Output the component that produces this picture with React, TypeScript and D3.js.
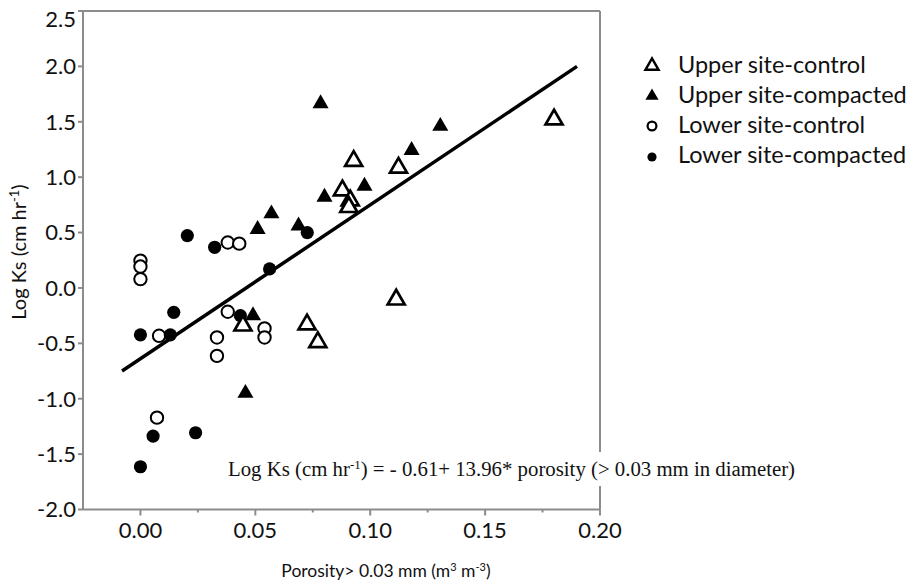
import React from "react";
import * as d3 from "d3";

// points: [porosity, log Ks]
const upperControl = [
  [0.18, 1.52], [0.0928, 1.146], [0.1123, 1.086], [0.0879, 0.88], [0.0913, 0.79],
  [0.0907, 0.73], [0.1113, -0.105], [0.0725, -0.33], [0.0772, -0.49], [0.0446, -0.34],
];
const upperCompacted = [
  [0.0784, 1.665], [0.1305, 1.46], [0.118, 1.242], [0.0975, 0.92], [0.0801, 0.82],
  [0.057, 0.67], [0.051, 0.53], [0.0688, 0.56], [0.049, -0.25], [0.0457, -0.95],
];
const lowerControl = [
  [0, 0.247], [0, 0.193], [0, 0.08], [0.038, 0.41], [0.043, 0.4], [0.038, -0.215],
  [0.054, -0.365], [0.054, -0.447], [0.0081, -0.432], [0.0333, -0.447], [0.0333, -0.613],
  [0.0072, -1.171],
];
const lowerCompacted = [
  [0.0204, 0.473], [0.0323, 0.367], [0.0726, 0.5], [0.0562, 0.172], [0.0145, -0.22],
  [0.0435, -0.25], [0, -0.423], [0.013, -0.423], [0.0055, -1.337], [0.024, -1.307],
  [0, -1.614],
];
const fitLine = [[-0.008, -0.75], [0.19, 2.0]];

const xTicks = [0, 0.05, 0.1, 0.15, 0.2];
const xMinor = [0.025, 0.075, 0.125, 0.175];
const yTicks = [-2.0, -1.5, -1.0, -0.5, 0.0, 0.5, 1.0, 1.5, 2.0, 2.5];
const legendLabels = ["Upper site-control", "Upper site-compacted", "Lower site-control", "Lower site-compacted"];

const sans = "Lato, 'Open Sans', sans-serif";
const axisColor = "#8c8c8c";

const App = () => {
  const x = d3.scaleLinear().domain([-0.025, 0.2]).range([83, 600]);
  const y = d3.scaleLinear().domain([-2, 2.5]).range([509.5, 11]);

  const tri = d3.symbol(d3.symbolTriangle, 125)();
  const triFilled = d3.symbol(d3.symbolTriangle, 112)();
  const legTri = d3.symbol(d3.symbolTriangle, 75)();
  const line = d3.line().x(d => x(d[0])).y(d => y(d[1]));

  return (
    <svg width={909} height={584} style={{ position: "absolute", left: 0, top: 0, background: "#fff" }}>
      {/* frame */}
      <g stroke={axisColor} strokeWidth={2} fill="none">
        <line x1={x(-0.025)} x2={x(0.2)} y1={y(2.5)} y2={y(2.5)} />
        <line x1={x(-0.025)} x2={x(0.2)} y1={y(-2)} y2={y(-2)} />
        <line x1={x(-0.025)} x2={x(-0.025)} y1={y(2.5)} y2={y(-2)} />
        <line x1={x(0.2)} x2={x(0.2)} y1={y(2.5)} y2={y(-2)} />
        {yTicks.map(t => <line key={t} x1={x(-0.025) - 5} x2={x(-0.025)} y1={y(t)} y2={y(t)} />)}
        {xTicks.map(t => <line key={t} x1={x(t)} x2={x(t)} y1={y(-2)} y2={y(-2) + 6} />)}
        {xMinor.map(t => <line key={t} x1={x(t)} x2={x(t)} y1={y(-2)} y2={y(-2) + 3} />)}
      </g>

      {yTicks.map(t => (
        <text key={t} x={76} y={Math.max(y(t), 19.5)} dy="0.36em" textAnchor="end" fontFamily={sans} fontSize={22} fill="#111">
          {t.toFixed(1)}
        </text>
      ))}
      {xTicks.map(t => (
        <text key={t} x={x(t)} y={538} textAnchor="middle" fontFamily={sans} fontSize={22} fill="#111">
          {t.toFixed(2)}
        </text>
      ))}

      <text transform="translate(26,252) rotate(-90)" textAnchor="middle" fontFamily={sans} fontSize={20} fill="#111">
        Log Ks (cm hr<tspan dy="-7" fontSize={13}>-1</tspan><tspan dy="7">)</tspan>
      </text>
      <text x={386} y={577} textAnchor="middle" fontFamily={sans} fontSize={17.5} fill="#111">
        Porosity&gt; 0.03 mm (m<tspan dy="-6" fontSize={11}>3</tspan><tspan dy="6"> m</tspan>
        <tspan dy="-6" fontSize={11}>-3</tspan><tspan dy="6">)</tspan>
      </text>

      {/* fitted line */}
      <path d={line(fitLine as [number, number][])!} stroke="#000" strokeWidth={3.5} fill="none" />

      {/* points */}
      {lowerControl.map((d, i) => (
        <circle key={"lc" + i} cx={x(d[0])} cy={y(d[1])} r={6.2} fill="#fff" stroke="#000" strokeWidth={2} />
      ))}
      {lowerCompacted.map((d, i) => (
        <circle key={"lp" + i} cx={x(d[0])} cy={y(d[1])} r={6.6} fill="#000" />
      ))}
      {upperControl.map((d, i) => (
        <path key={"uc" + i} d={tri!} transform={`translate(${x(d[0])},${y(d[1])})`} fill="#fff" stroke="#000" strokeWidth={2.7} />
      ))}
      {upperCompacted.map((d, i) => (
        <path key={"up" + i} d={triFilled!} transform={`translate(${x(d[0])},${y(d[1])})`} fill="#000" />
      ))}

      {/* equation */}
      <rect x={222} y={452} width={580} height={34} fill="#fff" />
      <text x={228} y={476} fontFamily="'Liberation Serif', 'Times New Roman', serif" fontSize={20.8} fill="#111">
        Log Ks (cm hr<tspan dy="-7" fontSize={13}>-1</tspan><tspan dy="7">) = - 0.61+ 13.96* porosity (&gt; 0.03 mm in diameter)</tspan>
      </text>

      {/* legend */}
      <g>
        {legendLabels.map((l, i) => (
          <text key={l} x={678} y={65 + i * 30} dy="0.36em" fontFamily={sans} fontSize={23.5} fill="#111">{l}</text>
        ))}
        <path d={legTri!} transform={`translate(652,66)`} fill="#fff" stroke="#000" strokeWidth={2.4} />
        <path d={legTri!} transform={`translate(652,96)`} fill="#000" />
        <circle cx={652} cy={126} r={4.4} fill="#fff" stroke="#000" strokeWidth={2.2} />
        <circle cx={652} cy={157} r={4.6} fill="#000" />
      </g>
    </svg>
  );
};

export default App;
